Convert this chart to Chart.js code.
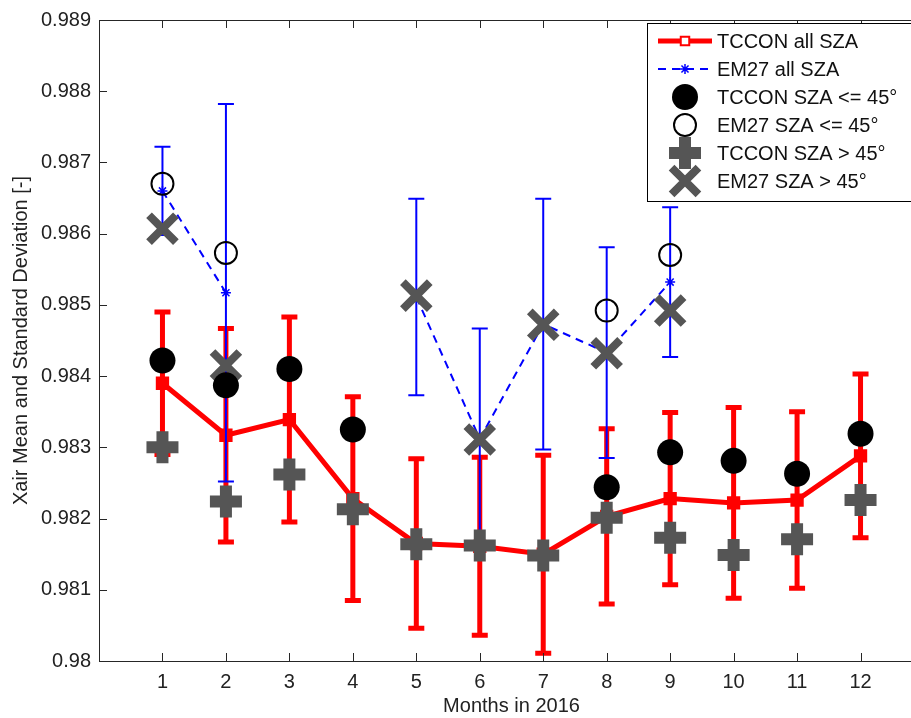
<!DOCTYPE html>
<html>
<head>
<meta charset="utf-8">
<title>Xair monthly means 2016</title>
<script src="https://cdn.jsdelivr.net/npm/chart.js@4.4.0/dist/chart.umd.min.js"></script>
<style>
  html, body { margin: 0; padding: 0; background: #fff; overflow: hidden; }
  #wrap { width: 940px; height: 718px; }
</style>
</head>
<body>
<div id="wrap"><canvas id="xairChart" width="940" height="718"></canvas></div>
<script>
// ---- data ----
const months = [1, 2, 3, 4, 5, 6, 7, 8, 9, 10, 11, 12];
const yTicks = [0.98, 0.981, 0.982, 0.983, 0.984, 0.985, 0.986, 0.987, 0.988, 0.989];

const tcconAllMean = [0.98390, 0.98317, 0.98339, 0.98228, 0.98165, 0.98161, 0.98150, 0.98203, 0.98228, 0.98222, 0.98226, 0.98288];
const tcconAllStd = [0.00100, 0.00150, 0.00144, 0.00143, 0.00119, 0.00125, 0.00139, 0.00123, 0.00121, 0.00134, 0.00124, 0.00115];

const em27AllMean = [0.98660, 0.98517, null, null, 0.98511, 0.98312, 0.98473, 0.98433, 0.98532, null, null, null];
const em27AllStd = [0.00062, 0.00265, null, null, 0.00138, 0.00155, 0.00176, 0.00148, 0.00105, null, null, null];

const tcconLowSza = [0.98422, 0.98387, 0.98410, 0.98325, null, null, null, 0.98244, 0.98293, 0.98281, 0.98263, 0.98319];
const em27LowSza = [0.98670, 0.98573, null, null, null, null, null, 0.98492, 0.98570, null, null, null];
const tcconHighSza = [0.98300, 0.98224, 0.98262, 0.98213, 0.98164, 0.98162, 0.98148, 0.98201, 0.98173, 0.98149, 0.98171, 0.98226];
const em27HighSza = [0.98607, 0.98415, null, null, 0.98513, 0.98311, 0.98472, 0.98432, 0.98492, null, null, null];

const seriesNames = ['TCCON all SZA', 'EM27 all SZA', 'TCCON SZA <= 45°', 'EM27 SZA <= 45°', 'TCCON SZA > 45°', 'EM27 SZA > 45°'];

const FONT = 'Liberation Sans, Arial, Helvetica, sans-serif';
const GREY = '#555555';

const toXY = (arr) => months.map((m, i) => ({ x: m, y: arr[i] }));

// error bars drawn just before their own dataset
const errorBars = {
  id: 'errorBars',
  beforeDatasetDraw(chart, args) {
    const ds = chart.data.datasets[args.index];
    if (!ds.errStd) return;
    const { ctx, scales: { x, y } } = chart;
    ctx.save();
    ctx.strokeStyle = ds.borderColor;
    ctx.lineWidth = ds.errWidth;
    ctx.setLineDash([]);
    ds.data.forEach((p, i) => {
      const s = ds.errStd[i];
      if (p.y == null || s == null) return;
      const px = x.getPixelForValue(p.x);
      const top = y.getPixelForValue(p.y + s);
      const bot = y.getPixelForValue(p.y - s);
      ctx.beginPath();
      ctx.moveTo(px, top); ctx.lineTo(px, bot);
      ctx.moveTo(px - ds.capHalf, top); ctx.lineTo(px + ds.capHalf, top);
      ctx.moveTo(px - ds.capHalf, bot); ctx.lineTo(px + ds.capHalf, bot);
      ctx.stroke();
    });
    ctx.restore();
  }
};

// matlab style box with inward ticks
const axesBox = {
  id: 'axesBox',
  afterDatasetsDraw(chart) {
    const { ctx, chartArea: a, scales: { x, y } } = chart;
    ctx.save();
    ctx.strokeStyle = '#262626';
    ctx.lineWidth = 1;
    ctx.strokeRect(Math.round(a.left) + 0.5, Math.round(a.top) + 0.5, Math.round(a.right - a.left), Math.round(a.bottom - a.top));
    ctx.beginPath();
    yTicks.forEach((v) => {
      const py = Math.round(y.getPixelForValue(v)) + 0.5;
      ctx.moveTo(a.left, py); ctx.lineTo(a.left + 8, py);
      ctx.moveTo(a.right, py); ctx.lineTo(a.right - 8, py);
    });
    months.forEach((m) => {
      const px = Math.round(x.getPixelForValue(m)) + 0.5;
      ctx.moveTo(px, a.bottom); ctx.lineTo(px, a.bottom - 8);
      ctx.moveTo(px, a.top); ctx.lineTo(px, a.top + 8);
    });
    ctx.stroke();
    ctx.restore();
  }
};

// boxed legend in the top right corner
const boxLegend = {
  id: 'boxLegend',
  afterDraw(chart) {
    const { ctx } = chart;
    const left = 647, top = 23, right = 918, bottom = 201;
    ctx.save();
    ctx.fillStyle = '#fff';
    ctx.fillRect(left, top, right - left, bottom - top);
    ctx.strokeStyle = '#000';
    ctx.lineWidth = 1;
    ctx.strokeRect(left + 0.5, top + 0.5, right - left, bottom - top);
    ctx.font = '20px ' + FONT;
    ctx.textBaseline = 'middle';
    chart.data.datasets.forEach((ds, i) => {
      const cy = 41 + i * 28;
      const cx = 685;
      if (ds.showLine !== false) {
        ctx.save();
        ctx.strokeStyle = ds.borderColor;
        ctx.lineWidth = ds.borderWidth;
        ctx.setLineDash(ds.borderDash || []);
        ctx.beginPath();
        ctx.moveTo(658, cy); ctx.lineTo(712, cy);
        ctx.stroke();
        ctx.restore();
      }
      ctx.save();
      ctx.fillStyle = ds.legendFill || ds.pointBackgroundColor;
      ctx.strokeStyle = ds.pointBorderColor;
      ctx.lineWidth = ds.legendBorder || ds.pointBorderWidth;
      Chart.helpers.drawPoint(ctx, {
        pointStyle: ds.pointStyle,
        radius: ds.legendRadius || ds.pointRadius,
        borderWidth: ds.legendBorder || ds.pointBorderWidth,
        rotation: 0
      }, cx, cy);
      ctx.restore();
      ctx.fillStyle = '#111';
      ctx.fillText(ds.label, 717, cy + 1);
    });
    ctx.restore();
  }
};

const ctx = document.getElementById('xairChart');
new Chart(ctx, {
  type: 'line',
  data: {
    datasets: [
      {
        label: seriesNames[0],
        data: toXY(tcconAllMean),
        errStd: tcconAllStd, errWidth: 5, capHalf: 8,
        borderColor: '#ff0000', borderWidth: 5,
        pointStyle: 'rect', pointRadius: 8, pointBorderWidth: 2,
        pointBackgroundColor: '#ff0000', pointBorderColor: '#ff0000',
        legendFill: '#ffffff', legendRadius: 6, legendBorder: 2,
        tension: 0, order: 60
      },
      {
        label: seriesNames[1],
        data: toXY(em27AllMean),
        errStd: em27AllStd, errWidth: 2, capHalf: 8,
        borderColor: '#0000ff', borderWidth: 2, borderDash: [8, 6],
        pointStyle: 'star', pointRadius: 5, pointBorderWidth: 1.5,
        pointBackgroundColor: '#0000ff', pointBorderColor: '#0000ff',
        spanGaps: false, tension: 0, order: 50
      },
      {
        label: seriesNames[2],
        data: toXY(tcconLowSza),
        showLine: false,
        pointStyle: 'circle', pointRadius: 13, pointBorderWidth: 0,
        pointBackgroundColor: '#000000', pointBorderColor: '#000000',
        order: 5
      },
      {
        label: seriesNames[3],
        data: toXY(em27LowSza),
        showLine: false,
        pointStyle: 'circle', pointRadius: 11, pointBorderWidth: 2,
        pointBackgroundColor: 'rgba(0,0,0,0)', pointBorderColor: '#000000',
        order: 30
      },
      {
        label: seriesNames[4],
        data: toXY(tcconHighSza),
        showLine: false,
        pointStyle: 'cross', pointRadius: 16, pointBorderWidth: 12,
        pointBackgroundColor: GREY, pointBorderColor: GREY,
        order: 20
      },
      {
        label: seriesNames[5],
        data: toXY(em27HighSza),
        showLine: false,
        pointStyle: 'crossRot', pointRadius: 19, pointBorderWidth: 8,
        pointBackgroundColor: GREY, pointBorderColor: GREY,
        order: 10
      }
    ]
  },
  options: {
    responsive: false,
    animation: false,
    events: [],
    layout: { autoPadding: false, padding: { top: 15, right: 16, bottom: 0, left: 0 } },
    plugins: {
      legend: { display: false },
      tooltip: { enabled: false }
    },
    scales: {
      x: {
        type: 'linear',
        min: 0,
        max: 13,
        afterBuildTicks: (s) => { s.ticks = months.map((v) => ({ value: v })); },
        afterFit: (s) => { s.height = 57; },
        grid: { display: false, drawTicks: false },
        border: { display: false },
        ticks: {
          autoSkip: false, maxRotation: 0, padding: 9,
          color: '#222', font: { family: FONT, size: 20 },
          callback: (v) => String(v)
        },
        title: {
          display: true, text: 'Months in 2016', color: '#222',
          font: { family: FONT, size: 20 }, padding: { top: 0, bottom: 0 }
        }
      },
      y: {
        min: 0.98,
        max: 0.989,
        afterBuildTicks: (s) => { s.ticks = yTicks.map((v) => ({ value: v })); },
        afterFit: (s) => { s.width = 99; },
        grid: { display: false, drawTicks: false },
        border: { display: false },
        ticks: {
          padding: 8, color: '#222', font: { family: FONT, size: 20 },
          callback: (v) => String(+Number(v).toFixed(3))
        },
        title: {
          display: true, text: 'Xair Mean and Standard Deviation [-]', color: '#222',
          font: { family: FONT, size: 20 }, padding: { top: 9, bottom: 0 }
        }
      }
    }
  },
  plugins: [errorBars, axesBox, boxLegend]
});
</script>
</body>
</html>
